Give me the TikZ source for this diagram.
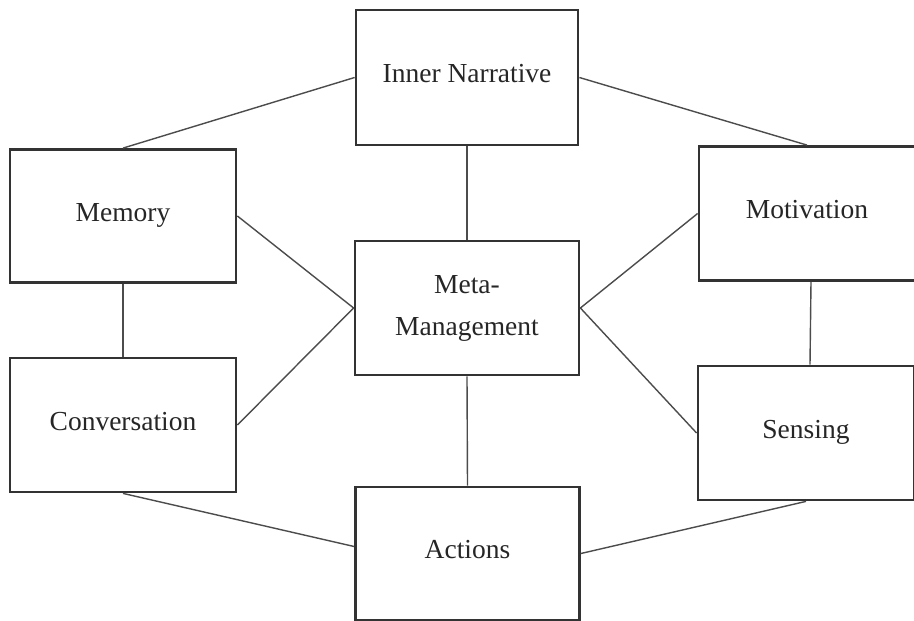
\documentclass[tikz,border=0pt]{standalone}
\usepackage{fontspec}
\setmainfont{Liberation Serif}
\begin{document}
\begin{tikzpicture}[x=1pt,y=-1pt,
  box/.style={draw=black!80, line width=2.8pt, fill=white, inner sep=0pt, align=center,
    font=\fontsize{27.5}{43}\selectfont, text=black!85},
  onebox/.style={box, text height=20pt, text depth=10pt},
  link/.style={draw=black!70, line width=1.4pt}]
\fill[white] (0,0) rectangle (914,621);
\useasboundingbox (0,0) rectangle (914,621);
% boxes
\node[onebox, minimum width=222pt, minimum height=135pt] (inn) at (467,77.5) {Inner Narrative};
\node[onebox, minimum width=226pt, minimum height=133pt] (mem) at (123,216) {Memory};
\node[box, minimum width=224pt, minimum height=134pt] (meta) at (467,308) {Meta-\\[-1pt]Management};
\node[onebox, minimum width=216pt, minimum height=134pt] (mot) at (807,213.5) {Motivation};
\node[onebox, minimum width=226pt, minimum height=134pt] (conv) at (123,425) {Conversation};
\node[onebox, minimum width=216pt, minimum height=134pt] (sen) at (806,433) {Sensing};
\node[onebox, minimum width=224pt, minimum height=133pt] (act) at (467.5,553.5) {Actions};
% connectors
\draw[link] (inn.west) -- (mem.north);
\draw[link] (inn.east) -- (mot.north);
\draw[link] (inn.south) -- (meta.north);
\draw[link] (mem.east) -- (meta.west);
\draw[link] (conv.east) -- (meta.west);
\draw[link] (meta.east) -- (mot.west);
\draw[link] (meta.east) -- (sen.west);
\draw[link] (mem.south) -- (conv.north);
\draw[link] ([xshift=4pt]mot.south) -- ([xshift=4pt]sen.north);
\draw[link] (meta.south) -- (act.north);
\draw[link] (conv.south) -- ([yshift=7pt]act.west);
\draw[link] (act.east) -- (sen.south);
\end{tikzpicture}
\end{document}
